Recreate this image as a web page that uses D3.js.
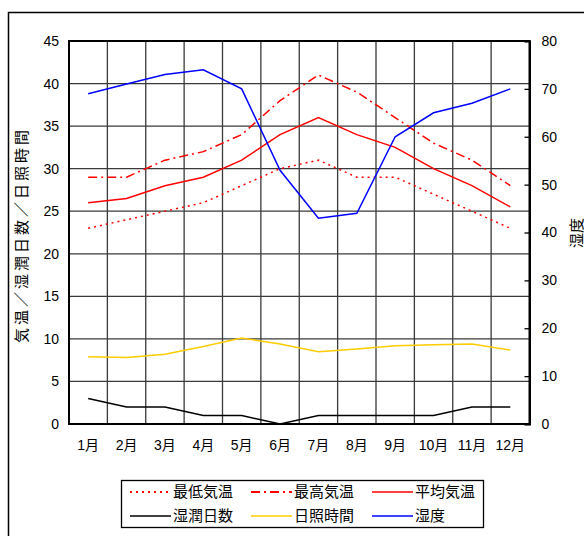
<!DOCTYPE html>
<html>
<head>
<meta charset="utf-8">
<script src="https://cdn.jsdelivr.net/npm/d3@7"></script>
<style>
  html, body { margin: 0; padding: 0; background: #fff; }
  svg { display: block; }
  text { font-family: "Liberation Sans", Arial, "Noto Sans CJK JP", sans-serif; fill: #000; }
  .jp { font-family: "Noto Sans CJK JP", sans-serif; }
</style>
</head>
<body>
<svg id="chart" width="584" height="536"></svg>
<script>
// Monthly climate figures
const months = ["1月","2月","3月","4月","5月","6月","7月","8月","9月","10月","11月","12月"];
const minTemp  = [23, 24, 25, 26, 28, 30, 31, 29, 29, 27, 25, 23];
const maxTemp  = [29, 29, 31, 32, 34, 38, 41, 39, 36, 33, 31, 28];
const avgTemp  = [26, 26.5, 28, 29, 31, 34, 36, 34, 32.5, 30, 28, 25.5];
const wetDays  = [3, 2, 2, 1, 1, 0, 1, 1, 1, 1, 2, 2];
const sunHours = [7.9, 7.8, 8.2, 9.1, 10.1, 9.4, 8.5, 8.8, 9.2, 9.3, 9.4, 8.7];
const humidity = [69, 71, 73, 74, 70, 53, 43, 44, 60, 65, 67, 70];

const leftTicks  = [0, 5, 10, 15, 20, 25, 30, 35, 40, 45];
const rightTicks = [0, 10, 20, 30, 40, 50, 60, 70, 80];

const svg = d3.select("#chart");
const plot = { left: 69, right: 529.5, top: 41, bottom: 424 };

const x = d3.scaleBand().domain(months).range([plot.left, plot.right]);
const yL = d3.scaleLinear().domain([0, 45]).range([plot.bottom, plot.top]);
const yR = d3.scaleLinear().domain([0, 80]).range([plot.bottom, plot.top]);
const cx = m => x(m) + x.bandwidth() / 2;

// Outer chart frame
svg.append("rect")
  .attr("x", 8.5).attr("y", 12.5).attr("width", 620).attr("height", 600)
  .attr("fill", "none").attr("stroke", "#000").attr("stroke-width", 1.5);

// Horizontal gridlines (left scale)
svg.append("g").selectAll("line").data(leftTicks.slice(1, -1)).join("line")
  .attr("x1", plot.left).attr("x2", plot.right)
  .attr("y1", d => yL(d)).attr("y2", d => yL(d))
  .attr("stroke", "#3a3a3a").attr("stroke-width", 1.3);

// Vertical gridlines at month boundaries
svg.append("g").selectAll("line").data(months.slice(1)).join("line")
  .attr("x1", d => x(d)).attr("x2", d => x(d))
  .attr("y1", plot.top).attr("y2", plot.bottom)
  .attr("stroke", "#3a3a3a").attr("stroke-width", 1.3);

// Plot frame
svg.append("rect")
  .attr("x", plot.left).attr("y", plot.top)
  .attr("width", plot.right - plot.left).attr("height", plot.bottom - plot.top)
  .attr("fill", "none").attr("stroke", "#000").attr("stroke-width", 2);

// Left axis
const axL = d3.axisLeft(yL).tickValues(leftTicks).tickSize(0).tickPadding(10);
const gL = svg.append("g").attr("transform", `translate(${plot.left},0)`).call(axL);
gL.select(".domain").remove();
gL.selectAll("text").attr("font-size", 14).style("font-family", "'Liberation Sans', Arial, sans-serif");

// Right axis (humidity)
const axR = d3.axisRight(yR).tickValues(rightTicks).tickSize(-5).tickPadding(12);
const gR = svg.append("g").attr("transform", `translate(${plot.right},0)`).call(axR);
gR.select(".domain").attr("stroke", "#000").attr("stroke-width", 2);
gR.selectAll(".tick line").attr("stroke", "#000").attr("stroke-width", 1.3);
gR.selectAll("text").attr("font-size", 14).style("font-family", "'Liberation Sans', Arial, sans-serif");

// Bottom axis (months)
const axB = d3.axisBottom(x).tickSize(0).tickPadding(16);
const gB = svg.append("g").attr("transform", `translate(0,${plot.bottom})`).call(axB);
gB.select(".domain").remove();
gB.selectAll("text").attr("font-size", 14)
  .style("font-family", "'Liberation Sans', Arial, 'Noto Sans CJK JP', sans-serif");

// Axis titles
svg.append("text").attr("class", "jp")
  .attr("transform", "translate(27,235) rotate(-90)")
  .attr("text-anchor", "middle").attr("font-size", 15)
  .attr("letter-spacing", 3)
  .text("気温／湿潤日数／日照時間");
svg.append("text").attr("class", "jp")
  .attr("transform", "translate(582,233) rotate(-90)")
  .attr("text-anchor", "middle").attr("font-size", 15)
  .text("湿度");

// Series definitions
const series = [
  { name: "最低気温", values: minTemp,  scale: yL, color: "#ff0000", dash: "2,4" },
  { name: "最高気温", values: maxTemp,  scale: yL, color: "#ff0000", dash: "9,4,2,4" },
  { name: "平均気温", values: avgTemp,  scale: yL, color: "#ff0000", dash: null },
  { name: "湿潤日数", values: wetDays,  scale: yL, color: "#000000", dash: null },
  { name: "日照時間", values: sunHours, scale: yL, color: "#ffcc00", dash: null },
  { name: "湿度",     values: humidity, scale: yR, color: "#0000ff", dash: null }
];

series.forEach(s => {
  const line = d3.line().x((d, i) => cx(months[i])).y(d => s.scale(d));
  svg.append("path")
    .datum(s.values)
    .attr("d", line)
    .attr("fill", "none")
    .attr("stroke", s.color)
    .attr("stroke-width", 1.5)
    .attr("stroke-dasharray", s.dash);
});

// Legend
const legend = svg.append("g");
legend.append("rect")
  .attr("x", 121.5).attr("y", 480.5).attr("width", 362).attr("height", 47)
  .attr("fill", "#fff").attr("stroke", "#000").attr("stroke-width", 1.3);
const colX = [130, 251, 372];
const rowY = [492, 516];
series.forEach((s, i) => {
  const gx = colX[i % 3], gy = rowY[Math.floor(i / 3)];
  legend.append("line")
    .attr("x1", gx).attr("x2", gx + 41).attr("y1", gy).attr("y2", gy)
    .attr("stroke", s.color).attr("stroke-width", s.dash ? 2 : 1.5)
    .attr("stroke-dasharray", s.dash);
  legend.append("text").attr("class", "jp")
    .attr("x", gx + 43).attr("y", gy).attr("dy", "0.36em")
    .attr("font-size", 15)
    .text(s.name);
});
</script>
</body>
</html>
